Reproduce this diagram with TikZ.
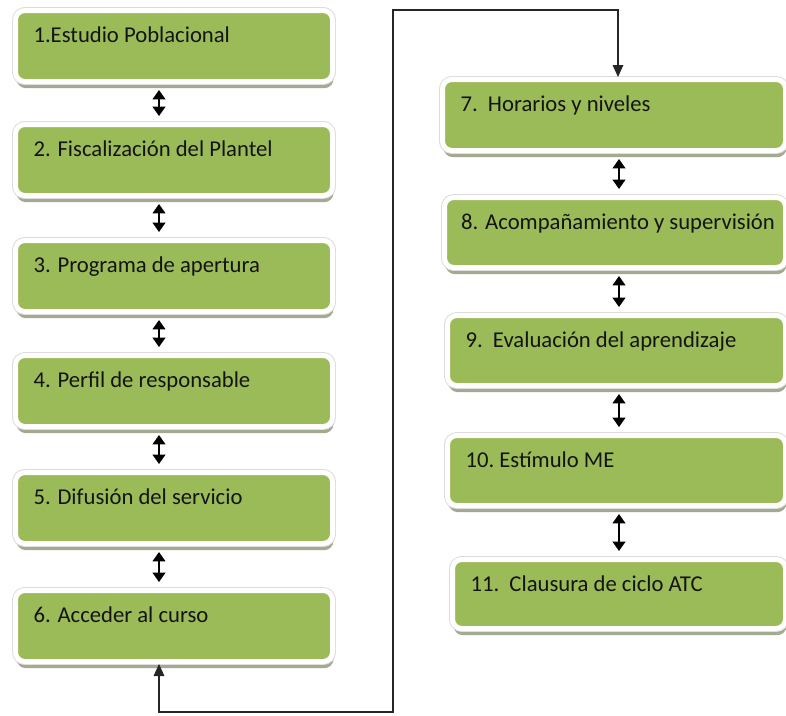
\documentclass[tikz,border=0pt]{standalone}
\usepackage{fontspec}
\setmainfont{Carlito}
\usetikzlibrary{arrows.meta,shadows}
\definecolor{boxgreen}{HTML}{9BBB59}
\definecolor{rimgray}{HTML}{DCDCDC}
\definecolor{shadowgray}{HTML}{A3AA92}
\definecolor{inkgray}{HTML}{141414}

\begin{document}
\begin{tikzpicture}[x=0.75pt,y=-0.75pt,
  stepbox/.style={rectangle, rounded corners=7pt, inner sep=0pt,
    fill=boxgreen, draw=white, line width=3.75pt,
    drop shadow={shadow xshift=0.8pt, shadow yshift=-5pt, fill=shadowgray, opacity=1},
    preaction={draw=rimgray, line width=5.2pt}},
  boxsize/.style 2 args={minimum width=#1*0.75pt, minimum height=#2*0.75pt},
  lbl/.style={anchor=base west, inner sep=0pt, label distance=0pt,
    xshift=15.2pt, yshift=-25.5pt, font=\fontsize{17pt}{20pt}\selectfont, text=inkgray},
  dbl/.style={{Triangle[width=9.5pt,length=7pt]}-{Triangle[width=9.5pt,length=7pt]},
    line width=1.3pt, shorten <=4.5pt, shorten >=4.5pt},
  conn/.style={{Triangle[width=8pt,length=9pt]}-{Triangle[width=8pt,length=9pt]},
    line width=0.8pt, draw=black!85}]

\useasboundingbox (0,0) rectangle (786,715);

% left column of steps
\node[stepbox, boxsize={317}{71}, label={[lbl]north west:1.Estudio Poblacional}] (s1) at (174,46) {};
\node[stepbox, boxsize={317}{71}, label={[lbl]north west:2. Fiscalización del Plantel}] (s2) at (174,160) {};
\node[stepbox, boxsize={317}{71}, label={[lbl]north west:3. Programa de apertura}] (s3) at (174,276) {};
\node[stepbox, boxsize={317}{71}, label={[lbl]north west:4. Perfil de responsable}] (s4) at (174,391) {};
\node[stepbox, boxsize={317}{71}, label={[lbl]north west:5. Difusión del servicio}] (s5) at (174,508) {};
\node[stepbox, boxsize={317}{71}, label={[lbl]north west:6. Acceder al curso}] (s6) at (174,626) {};

% right column of steps
\node[stepbox, boxsize={343}{71}, label={[lbl]north west:7.\ \ Horarios y niveles}] (s7) at (614,115) {};
\node[stepbox, boxsize={341}{70}, label={[lbl,xshift=-1pt]north west:8. Acompañamiento y supervisión}] (s8) at (615,232.5) {};
\node[stepbox, boxsize={338}{70}, label={[lbl]north west:9.\ \ Evaluación del aprendizaje}] (s9) at (616.5,350.5) {};
\node[stepbox, boxsize={338}{70}, label={[lbl]north west:10.\ Estímulo ME}] (s10) at (616.5,470.5) {};
\node[stepbox, boxsize={333}{69}, label={[lbl]north west:11.\ \ Clausura de ciclo ATC}] (s11) at (619,594) {};

% axes of the short two-way arrows
\coordinate (lx) at (159,0);
\coordinate (rx) at (619,0);

\draw[dbl] (s1.south -| lx) -- (s2.north -| lx);
\draw[dbl] (s2.south -| lx) -- (s3.north -| lx);
\draw[dbl] (s3.south -| lx) -- (s4.north -| lx);
\draw[dbl] (s4.south -| lx) -- (s5.north -| lx);
\draw[dbl] (s5.south -| lx) -- (s6.north -| lx);

\draw[dbl] (s7.south -| rx) -- (s8.north -| rx);
\draw[dbl] (s8.south -| rx) -- (s9.north -| rx);
\draw[dbl] (s9.south -| rx) -- (s10.north -| rx);
\draw[dbl] (s10.south -| rx) -- (s11.north -| rx);

% link from step 6 round to step 7
\coordinate (loopA) at (159,712);
\coordinate (loopB) at (393,10);
\coordinate (loopC) at (618,10);
\draw[conn] (s6.south -| loopA) -- (loopA) -- (loopA -| loopB) -- (loopB)
  -- (loopC) -- (s7.north -| loopC);

\end{tikzpicture}
\end{document}
